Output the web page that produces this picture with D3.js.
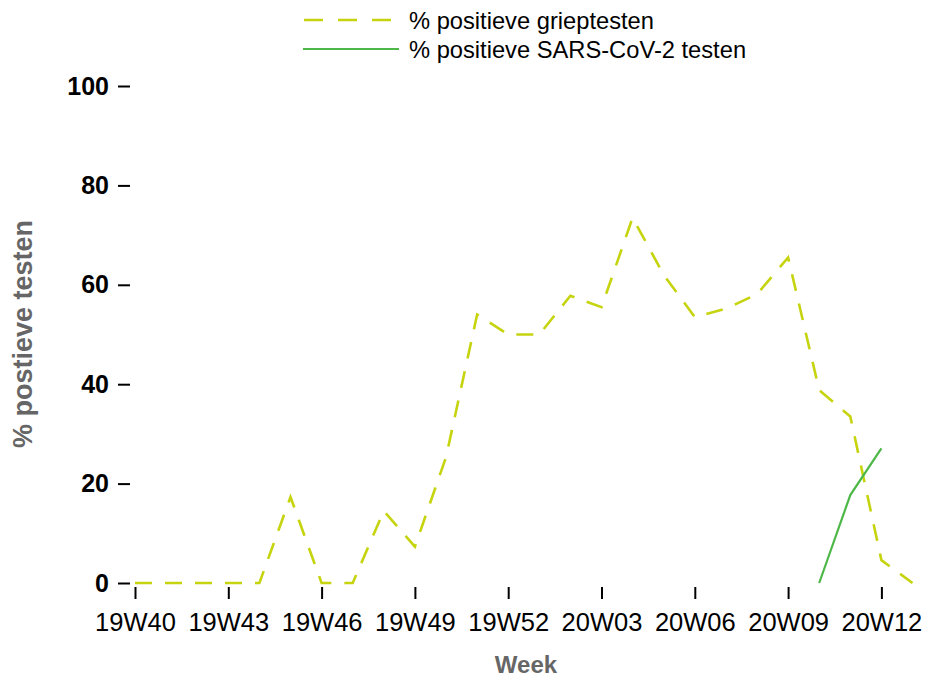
<!DOCTYPE html>
<html>
<head>
<meta charset="utf-8">
<script src="https://cdn.jsdelivr.net/npm/d3@7/dist/d3.min.js"></script>
<style>
  html, body { margin: 0; padding: 0; background: #fff; }
  svg { display: block; font-family: "Liberation Sans", Arial, sans-serif; }
</style>
</head>
<body>
<svg id="chart" width="926" height="679"></svg>
<script>
const weeks = ["19W40","19W41","19W42","19W43","19W44","19W45","19W46","19W47","19W48","19W49","19W50","19W51","19W52",
               "20W01","20W02","20W03","20W04","20W05","20W06","20W07","20W08","20W09","20W10","20W11","20W12","20W13"];
const fluPositive = [0,0,0,0,0,17.3,0,0,14.5,7.3,25.3,54,50,50,57.8,55.5,73.5,62,53.5,55.2,58.1,65.5,38.8,33.5,4.6,0];
const sarsPositive = [null,null,null,null,null,null,null,null,null,null,null,null,null,
                      null,null,null,null,null,null,null,null,null,0,17.7,27.1,null];
const xTickLabels = ["19W40","19W43","19W46","19W49","19W52","20W03","20W06","20W09","20W12"];
const yTicks = [0,20,40,60,80,100];
const seriesNames = ["% positieve grieptesten","% positieve SARS-CoV-2 testen"];
const colors = ["#c6d40f","#4db848"];

const svg = d3.select("#chart");
const x = d3.scalePoint().domain(weeks).range([135, 912.5]);
const y = d3.scaleLinear().domain([0,100]).range([583, 86]);

// Y axis
const yAxis = svg.append("g").attr("transform","translate(130,0)")
  .call(d3.axisLeft(y).tickValues(yTicks).tickSize(12).tickPadding(9));
yAxis.select(".domain").remove();
yAxis.selectAll(".tick line").attr("stroke","#000").attr("stroke-width",2);
yAxis.selectAll(".tick text").attr("font-size",25).attr("font-weight","bold").attr("fill","#000")
  .attr("font-family","'Liberation Sans', Arial, sans-serif");

// X axis
const xAxis = svg.append("g").attr("transform","translate(0,587)")
  .call(d3.axisBottom(x).tickValues(xTickLabels).tickSize(12).tickPadding(14));
xAxis.select(".domain").remove();
xAxis.selectAll(".tick line").attr("stroke","#000").attr("stroke-width",2);
xAxis.selectAll(".tick text").attr("font-size",25.5).attr("fill","#000")
  .attr("font-family","'Liberation Sans', Arial, sans-serif");

// Axis titles
svg.append("text").attr("x",526).attr("y",673).attr("text-anchor","middle")
  .attr("font-size",24).attr("font-weight","bold").attr("fill","#666").text("Week");
svg.append("text").attr("transform","translate(32,334) rotate(-90)").attr("text-anchor","middle")
  .attr("font-size",27).attr("font-weight","bold").attr("fill","#666").text("% postieve testen");

// Lines
const line = d3.line()
  .defined(d => d.v !== null)
  .x(d => x(d.w)).y(d => y(d.v));

const fluData = weeks.map((w,i) => ({w, v: fluPositive[i]}));
const sarsData = weeks.map((w,i) => ({w, v: sarsPositive[i]}));

svg.append("path").datum(fluData).attr("d", line)
  .attr("fill","none").attr("stroke",colors[0]).attr("stroke-width",2.6)
  .attr("stroke-dasharray","17,13");
svg.append("path").datum(sarsData).attr("d", line)
  .attr("fill","none").attr("stroke",colors[1]).attr("stroke-width",2.2);

// Legend
const legend = svg.append("g");
legend.append("line").attr("x1",304).attr("x2",391).attr("y1",20).attr("y2",20)
  .attr("stroke",colors[0]).attr("stroke-width",2.6).attr("stroke-dasharray","19,15");
legend.append("line").attr("x1",303).attr("x2",399).attr("y1",49).attr("y2",49)
  .attr("stroke",colors[1]).attr("stroke-width",2.2);
legend.append("text").attr("x",409).attr("y",29).attr("font-size",23.7).attr("fill","#000").text(seriesNames[0]);
legend.append("text").attr("x",409).attr("y",58).attr("font-size",23.7).attr("fill","#000").text(seriesNames[1]);
</script>
</body>
</html>
